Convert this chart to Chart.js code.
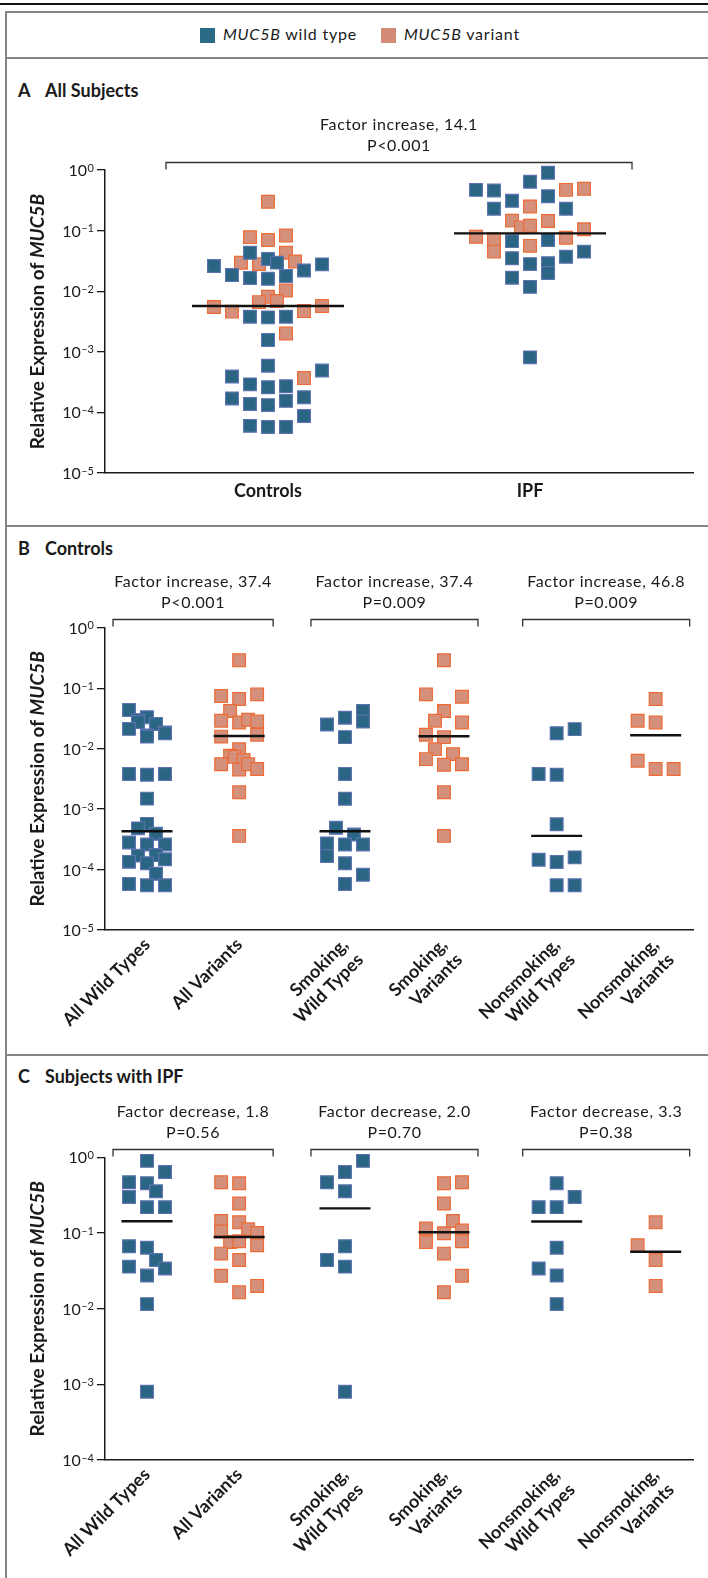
<!DOCTYPE html>
<html>
<head>
<meta charset="utf-8">
<script src="https://cdn.jsdelivr.net/npm/chart.js@4.4.1/dist/chart.umd.min.js"></script>
<style>
  body { margin: 0; width: 708px; height: 1578px; position: relative; overflow: hidden; background: #fff; font-family: Lato, sans-serif; color: #1a1a1a; }
  .abs { position: absolute; }
  .rule { left: 7px; right: 0; height: 2px; background: #858585; }
  .ttl { font-weight: 700; font-size: 18px; line-height: 18px; white-space: nowrap; }
  .legt { font-size: 16px; line-height: 16px; letter-spacing: 0.8px; white-space: nowrap; }
  canvas { position: absolute; left: 7px; }
</style>
</head>
<body>
<div class="abs" style="left:0;top:3px;width:708px;height:1.5px;background:#111"></div>
<div class="abs" style="left:5px;top:11px;right:0;bottom:0;border-left:2px solid #858585;border-top:2px solid #858585"></div>

<div class="abs" style="left:200px;top:28px;width:15px;height:15px;background:#2a6a84"></div>
<div class="abs legt" style="left:223px;top:26px"><i>MUC5B</i> wild type</div>
<div class="abs" style="left:381px;top:28px;width:15px;height:15px;background:#d38b77"></div>
<div class="abs legt" style="left:404px;top:26px"><i>MUC5B</i> variant</div>
<div class="abs rule" style="top:57px"></div>

<div class="abs ttl" style="left:18px;top:81px">A</div>
<div class="abs ttl" style="left:45px;top:81px">All Subjects</div>
<canvas id="chartA" width="701" height="465" style="top:60px"></canvas>
<div class="abs rule" style="top:525px"></div>

<div class="abs ttl" style="left:18px;top:539px">B</div>
<div class="abs ttl" style="left:45px;top:539px">Controls</div>
<canvas id="chartB" width="701" height="527" style="top:527px"></canvas>
<div class="abs rule" style="top:1054px"></div>

<div class="abs ttl" style="left:18px;top:1067px">C</div>
<div class="abs ttl" style="left:45px;top:1067px">Subjects with IPF</div>
<canvas id="chartC" width="701" height="522" style="top:1056px"></canvas>

<script>
// ---- data ----
// Panel A: all subjects
const catsA = ['Controls', 'IPF'];
const ctrlWild = [0.043, 0.034, 0.0296, 0.026, 0.0277, 0.0185, 0.0165, 0.016, 0.0178, 0.022,
  0.0038, 0.0037, 0.0038, 0.00157, 0.00059, 0.00049, 0.00039, 0.00029, 0.00026, 0.00027,
  0.00017, 0.000138, 0.000132, 0.000155, 0.000178, 0.000087, 0.00006, 0.0000575, 0.0000575];
const ctrlVar = [0.30, 0.078, 0.070, 0.083, 0.043, 0.0295, 0.028, 0.031, 0.0103, 0.0081,
  0.0066, 0.0069, 0.0055, 0.0046, 0.0047, 0.0057, 0.0020, 0.00037];
const ipfWild = [0.90, 0.64, 0.47, 0.46, 0.37, 0.31, 0.23, 0.23, 0.067, 0.07, 0.035, 0.037,
  0.045, 0.028, 0.029, 0.020, 0.0167, 0.0118, 0.00081];
const ipfVar = [0.49, 0.47, 0.25, 0.146, 0.144, 0.113, 0.12, 0.105, 0.079, 0.072, 0.076, 0.045, 0.056];
const meansA = [0.0057, 0.09];
const notesA = [['Factor increase, 14.1', 'P<0.001']];

// Panel B: controls
const groups = ['All Wild Types', 'All Variants', ['Smoking,', 'Wild Types'], ['Smoking,', 'Variants'],
  ['Nonsmoking,', 'Wild Types'], ['Nonsmoking,', 'Variants']];
const bAllWild = [0.0436, 0.033, 0.0296, 0.0276, 0.0256, 0.0212, 0.0185, 0.018, 0.0165, 0.0158,
  0.0038, 0.0037, 0.0038, 0.00149, 0.00057, 0.00048, 0.00039, 0.00028, 0.00026, 0.00026,
  0.00017, 0.000174, 0.000134, 0.000127, 0.000148, 0.000085, 0.0000575, 0.000055, 0.000055];
const bAllVar = [0.29, 0.074, 0.066, 0.079, 0.042, 0.029, 0.027, 0.030, 0.028, 0.0158, 0.017,
  0.0098, 0.0076, 0.0073, 0.0065, 0.0055, 0.0045, 0.0055, 0.0046, 0.0019, 0.00036];
const bSmkWild = [0.025, 0.0325, 0.042, 0.028, 0.0155, 0.0038, 0.00148, 0.00049, 0.00038, 0.00027,
  0.00026, 0.00026, 0.000168, 0.000127, 0.000082, 0.0000575];
const bSmkVar = [0.29, 0.079, 0.072, 0.042, 0.029, 0.027, 0.017, 0.0155, 0.0098, 0.0081, 0.0067,
  0.0054, 0.0055, 0.0019, 0.00036];
const bNonWild = [0.018, 0.021, 0.0038, 0.0037, 0.00056, 0.000145, 0.000133, 0.000159, 0.000055, 0.000055];
const bNonVar = [0.066, 0.029, 0.027, 0.0063, 0.0046, 0.0046];
const meansB = [0.00043, 0.0162, 0.00043, 0.016, 0.00036, 0.0166];
const notesB = [['Factor increase, 37.4', 'P<0.001'], ['Factor increase, 37.4', 'P=0.009'],
  ['Factor increase, 46.8', 'P=0.009']];

// Panel C: subjects with IPF
const cAllWild = [0.90, 0.64, 0.47, 0.456, 0.356, 0.30, 0.22, 0.22, 0.067, 0.064, 0.044, 0.036,
  0.034, 0.0274, 0.0115, 0.0008];
const cAllVar = [0.47, 0.456, 0.246, 0.144, 0.139, 0.112, 0.105, 0.10, 0.076, 0.078, 0.069,
  0.0535, 0.044, 0.0273, 0.020, 0.0165];
const cSmkWild = [0.90, 0.64, 0.47, 0.356, 0.067, 0.044, 0.036, 0.0008];
const cSmkVar = [0.47, 0.456, 0.246, 0.144, 0.115, 0.108, 0.0995, 0.076, 0.078, 0.0535, 0.0273, 0.0165];
const cNonWild = [0.456, 0.30, 0.22, 0.22, 0.064, 0.034, 0.0274, 0.0115];
const cNonVar = [0.139, 0.069, 0.044, 0.020];
const meansC = [0.143, 0.0887, 0.212, 0.1026, 0.142, 0.0567];
const notesC = [['Factor decrease, 1.8', 'P=0.56'], ['Factor decrease, 2.0', 'P=0.70'],
  ['Factor decrease, 3.3', 'P=0.38']];

const ticksAB = [1e-5, 1e-4, 1e-3, 1e-2, 1e-1, 1];
const ticksC = [1e-4, 1e-3, 1e-2, 1e-1, 1];

// ---- layout: jitter columns of each swarm (in square widths) ----
const ctrlWildCol = [-1, 0, 0.5, -3, 3, -2, -1, 0, 1, 2, -1, 0, 1, 0, 0, 3, -2, -1, 0, 1, -2, -1, 0, 1, 2, 2, -1, 0, 1];
const ctrlVarCol = [0, -1, 0, 1, 1, -1.5, -0.5, 1.5, 1, 0, -0.5, 0.5, -3, -2, 2, 3, 1, 2];
const ipfWildCol = [1, 0, -3, -2, 1, -1, -2, 2, -1, 1, -1, 2, 3, 0, 1, 1, -1, 0, 0];
const ipfVarCol = [3, 2, 0, -1, 1, -0.5, 0, 3, -3, -2, 2, -2, 0];
const bAllWildCol = [-1, 0, -0.5, -0.5, 0.5, -1, 1, 1, 0, 0, -1, 0, 1, 0, 0, -0.5, 0.5, -1, 0, 1, -0.5, 0.5, -1, 0, 1, 0.5, -1, 0, 1];
const bAllVarCol = [0, -1, 0, 1, -0.5, -1, 0, 0.5, 1, -1, 1, 0, -0.5, -0.25, 0.25, -1, 0, 0.5, 1, 0, 0];
const bSmkWildCol = [-1, 0, 1, 1, 0, 0, 0, -0.5, 0.5, -1, 0, 1, -1, 0, 1, 0];
const bSmkVarCol = [0, -1, 1, 0, -0.5, 1, -1, 0, -0.5, 0.5, -1, 0, 1, 0, 0];
const bNonWildCol = [0, 1, -1, 0, 0, -1, 0, 1, 0, 1];
const bNonVarCol = [0, -1, 0, -1, 0, 1];
const cAllWildCol = [0, 1, -1, 0, 0.5, -1, 0, 1, -1, 0, 0.5, -1, 1, 0, 0, 0];
const cAllVarCol = [-1, 0, 0, -1, 0, 0.5, -1, 1, -0.5, 0, 1, -1, 0, -1, 1, 0];
const cSmkWildCol = [1, 0, -1, 0, 0, -1, 0, 0];
const cSmkVarCol = [1, 0, 0, 0.5, -1, 1, 0, -1, 1, 0, 1, 0];
const cNonWildCol = [0, 1, -1, 0, 0, -1, 0, 0];
const cNonVarCol = [0, -1, 0, 0];

const xA = [0, 1];                              // category centres, panel A
const xBC = [0, 0.94, 2.02, 3.03, 4.18, 5.19];  // category centres, panels B and C

const INK = '#1a1a1a';
const WILD = '#2a6583', WILD_EDGE = '#5a72ae';
const VAR = '#d4907b', VAR_EDGE = '#ee6b36';

Chart.defaults.font.family = 'Lato';
Chart.defaults.color = INK;

function swarm(vals, cols, centre, step) {
  return vals.map((v, i) => ({ x: centre + cols[i] * step, y: v }));
}

// tick labels with raised exponents, the y title, brackets and test notes
const decor = {
  id: 'decor',
  afterDraw(chart, args, o) {
    const { ctx, chartArea: a, scales: { x, y } } = chart;
    ctx.save();
    ctx.fillStyle = INK;
    y.ticks.forEach(t => {
      const py = y.getPixelForValue(t.value);
      const e = Math.round(Math.log10(t.value));
      const sup = e === 0 ? '0' : '\u2013' + (-e);
      const right = a.left - 11;
      ctx.font = '11px Lato';
      const w = ctx.measureText(sup).width;
      ctx.textAlign = 'left';
      ctx.textBaseline = 'alphabetic';
      ctx.fillText(sup, right - w, py + 1.5);
      ctx.font = '16px Lato';
      ctx.textAlign = 'right';
      ctx.fillText('10', right - w - 0.5, py + 6);
    });

    ctx.save();
    ctx.translate(31, (a.top + a.bottom) / 2);
    ctx.rotate(-Math.PI / 2);
    const p1 = 'Relative Expression of ', p2 = 'MUC5B';
    ctx.font = 'bold 19px Lato';
    const w1 = ctx.measureText(p1).width;
    ctx.font = 'italic bold 19px Lato';
    const w2 = ctx.measureText(p2).width;
    ctx.textAlign = 'left';
    ctx.textBaseline = 'middle';
    ctx.font = 'bold 19px Lato';
    ctx.fillText(p1, -(w1 + w2) / 2, 0);
    ctx.font = 'italic bold 19px Lato';
    ctx.fillText(p2, -(w1 + w2) / 2 + w1, 0);
    ctx.restore();

    o.notes.forEach((lines, i) => {
      const x1 = x.getPixelForValue(o.centres[2 * i]) - o.ext;
      const x2 = x.getPixelForValue(o.centres[2 * i + 1]) + o.ext;
      const by = Math.round(a.top - 8.5) + 0.5;
      ctx.strokeStyle = '#333';
      ctx.lineWidth = 1.3;
      ctx.beginPath();
      ctx.moveTo(x1, by + 7);
      ctx.lineTo(x1, by);
      ctx.lineTo(x2, by);
      ctx.lineTo(x2, by + 7);
      ctx.stroke();
      ctx.font = '16px Lato';
      ctx.letterSpacing = '0.6px';
      ctx.textAlign = 'center';
      ctx.textBaseline = 'middle';
      ctx.fillText(lines[0], (x1 + x2) / 2, by - 38);
      ctx.fillText(lines[1], (x1 + x2) / 2, by - 17);
      ctx.letterSpacing = '0px';
    });
    ctx.restore();
  }
};

function pointSet(data, fill, edge, order) {
  return {
    data, order, pointStyle: 'rect', pointRadius: 9, pointHoverRadius: 9,
    backgroundColor: fill, borderColor: edge, borderWidth: 1.2, showLine: false, clip: false
  };
}

function meanSets(means, centres, half) {
  return means.map((m, i) => ({
    data: [{ x: centres[i] - half, y: m }, { x: centres[i] + half, y: m }],
    order: 0, showLine: true, borderColor: '#111', borderWidth: 2.4, pointRadius: 0, clip: false
  }));
}

function panel(id, cfg) {
  return new Chart(document.getElementById(id), {
    type: 'scatter',
    data: {
      datasets: [
        ...meanSets(cfg.means, cfg.centres, cfg.half),
        pointSet(cfg.wild, WILD, WILD_EDGE, 1),
        pointSet(cfg.variant, VAR, VAR_EDGE, 2)
      ]
    },
    options: {
      responsive: false,
      animation: false,
      layout: { padding: { top: cfg.top, right: 15, left: 0, bottom: 0 } },
      plugins: {
        legend: { display: false },
        tooltip: { enabled: false },
        decor: { notes: cfg.notes, centres: cfg.centres, ext: cfg.ext }
      },
      scales: {
        x: {
          type: 'linear', min: cfg.xMin, max: cfg.xMax,
          afterBuildTicks: s => { s.ticks = cfg.centres.map(v => ({ value: v })); },
          afterFit: s => { s.height = cfg.xHeight; },
          grid: { display: false, drawTicks: false },
          border: { display: true, color: INK, width: 1.5 },
          ticks: {
            autoSkip: false, minRotation: cfg.rot, maxRotation: cfg.rot, padding: cfg.pad,
            font: { size: 18, weight: 'bold' }, color: INK,
            callback: (v, i) => cfg.labels[i]
          }
        },
        y: {
          type: 'logarithmic', min: cfg.yTicks[0], max: 1,
          afterBuildTicks: s => { s.ticks = cfg.yTicks.map(v => ({ value: v })); },
          afterFit: s => { s.width = 98; },
          ticks: { display: false },
          grid: { display: true, drawOnChartArea: false, drawTicks: true, tickLength: 8, color: INK, lineWidth: 1.3 },
          border: { display: true, color: INK, width: 1.5 }
        }
      }
    },
    plugins: [decor]
  });
}

const stepA = 18 / 262, stepBC = 18 / 98;

panel('chartA', {
  labels: catsA, centres: xA, xMin: -0.622, xMax: 1.622, rot: 0, pad: 7,
  top: 110, xHeight: 52, yTicks: ticksAB, means: meansA, half: 76 / 262,
  notes: notesA, ext: 102,
  wild: [...swarm(ctrlWild, ctrlWildCol, xA[0], stepA), ...swarm(ipfWild, ipfWildCol, xA[1], stepA)],
  variant: [...swarm(ctrlVar, ctrlVarCol, xA[0], stepA), ...swarm(ipfVar, ipfVarCol, xA[1], stepA)]
});

panel('chartB', {
  labels: groups, centres: xBC, xMin: -0.4286, xMax: 5.571, rot: 45, pad: 4,
  top: 100.7, xHeight: 124, yTicks: ticksAB, means: meansB, half: 25.5 / 98,
  notes: notesB, ext: 34,
  wild: [...swarm(bAllWild, bAllWildCol, xBC[0], stepBC), ...swarm(bSmkWild, bSmkWildCol, xBC[2], stepBC),
    ...swarm(bNonWild, bNonWildCol, xBC[4], stepBC)],
  variant: [...swarm(bAllVar, bAllVarCol, xBC[1], stepBC), ...swarm(bSmkVar, bSmkVarCol, xBC[3], stepBC),
    ...swarm(bNonVar, bNonVarCol, xBC[5], stepBC)]
});

panel('chartC', {
  labels: groups, centres: xBC, xMin: -0.4286, xMax: 5.571, rot: 45, pad: 4,
  top: 101.4, xHeight: 118, yTicks: ticksC, means: meansC, half: 25.5 / 98,
  notes: notesC, ext: 34,
  wild: [...swarm(cAllWild, cAllWildCol, xBC[0], stepBC), ...swarm(cSmkWild, cSmkWildCol, xBC[2], stepBC),
    ...swarm(cNonWild, cNonWildCol, xBC[4], stepBC)],
  variant: [...swarm(cAllVar, cAllVarCol, xBC[1], stepBC), ...swarm(cSmkVar, cSmkVarCol, xBC[3], stepBC),
    ...swarm(cNonVar, cNonVarCol, xBC[5], stepBC)]
});
</script>
</body>
</html>
